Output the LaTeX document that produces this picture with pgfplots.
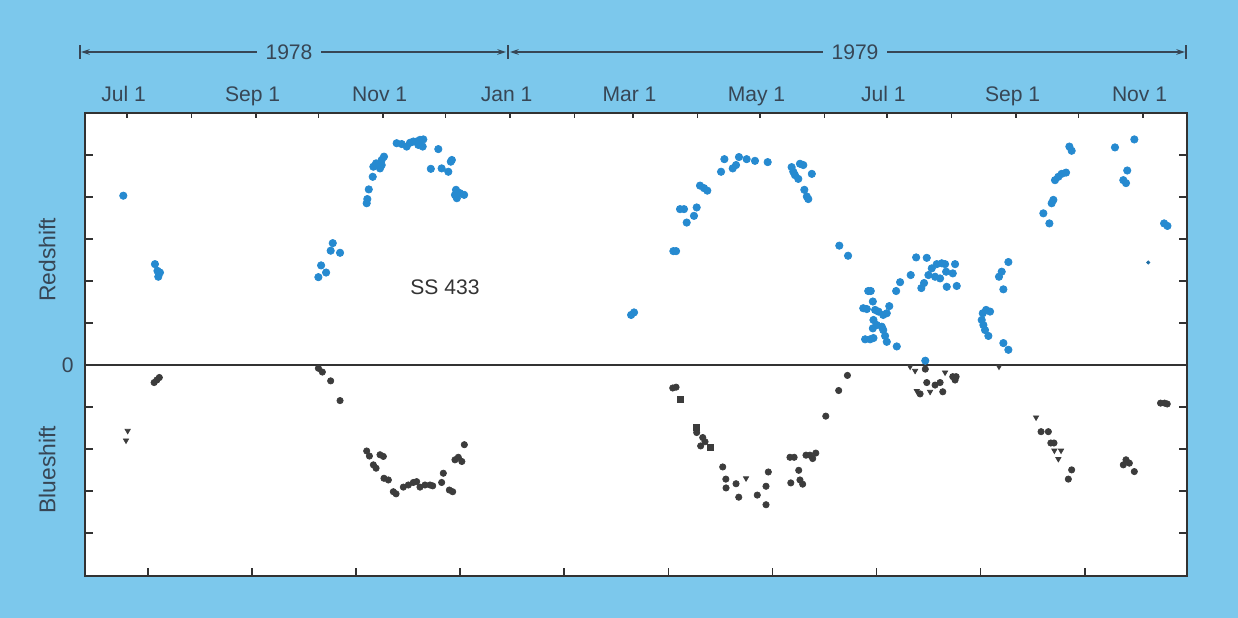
\documentclass[border=0pt]{standalone}
\usepackage{pgfplots}
\pgfplotsset{compat=1.18}
\usepackage{fontspec}
\setmainfont{Liberation Sans}
\usetikzlibrary{arrows.meta}
\definecolor{bgc}{RGB}{124,200,236}
\definecolor{txt}{RGB}{55,70,85}
\definecolor{redc}{RGB}{38,138,208}
\definecolor{darkc}{RGB}{60,60,60}
\definecolor{framec}{RGB}{50,50,50}
\begin{document}
\begin{tikzpicture}
\fill[bgc] (0,0) rectangle (24.76cm,12.36cm);
\path[use as bounding box] (0,0) rectangle (24.76cm,12.36cm);
% first axis: data, bottom JD ticks, left/right ticks
\begin{axis}[
  at={(1.70cm,0.846cm)}, anchor=south west,
  scale only axis, width=22.04cm, height=9.254cm,
  xmin=160.8, xmax=690.1, ymin=-5.02, ymax=6.0,
  axis background/.style={fill=white},
  axis line style={framec, line width=1.1pt},
  clip=false,
  tick align=inside,
  major tick length=0.16cm,
  xtick={191,241,291,341,391,441,491,541,591,641},
  xticklabels={},
  xtick pos=lower,
  x tick style={framec, line width=0.9pt},
  ytick={-4,-3,-2,-1,1,2,3,4,5},
  yticklabels={},
  ytick pos=both,
  y tick style={framec, line width=0.9pt},
  extra y ticks={0}, extra y tick labels={0},
  extra y tick style={yticklabel style={font=\fontsize{12}{14}\selectfont, text=txt, xshift=-3pt}},
  /pgf/number format/assume math mode=true,
]
\draw[framec, line width=1.1pt] (axis cs:160.8,0) -- (axis cs:690.1,0);
% redshift points
\addplot[only marks, mark=*, mark size=2.1pt, color=redc] table {
x y
179.2 4.03
194.4 2.40
195.6 2.24
196.8 2.20
196.0 2.10
279.8 2.90
278.8 2.72
283.3 2.67
274.2 2.37
276.6 2.20
272.9 2.09
296.1 3.85
296.4 3.95
297.1 4.18
299.0 4.48
299.3 4.72
300.6 4.80
302.5 4.68
303.3 4.76
304.4 4.96
303.3 4.88
310.5 5.28
312.9 5.26
315.3 5.20
316.9 5.29
318.5 5.32
320.1 5.32
321.7 5.36
323.3 5.37
323.0 5.20
320.9 5.24
330.5 5.14
326.9 4.67
332.1 4.68
335.3 4.60
336.5 4.84
337.0 4.88
339.0 4.17
339.4 3.97
340.9 4.09
342.9 4.05
338.5 4.05
423.1 1.19
424.5 1.25
443.4 2.71
444.7 2.71
446.6 3.71
448.5 3.71
454.6 3.75
453.3 3.55
449.8 3.39
456.2 4.27
458.1 4.21
459.7 4.15
466.3 4.60
467.9 4.90
471.9 4.68
473.5 4.76
474.9 4.95
478.6 4.90
482.6 4.86
488.7 4.83
500.2 4.71
501.0 4.60
501.8 4.52
503.4 4.43
504.2 4.79
505.8 4.76
509.9 4.55
506.3 4.17
507.5 4.01
508.2 3.95
523.1 2.84
527.3 2.60
537.0 1.76
538.2 1.76
539.2 1.51
534.6 1.35
536.3 1.33
540.3 1.31
541.9 1.27
544.2 1.19
545.9 1.23
547.1 1.40
539.5 1.07
541.1 0.95
539.2 0.87
544.2 0.83
543.5 0.91
535.5 0.61
537.9 0.61
539.5 0.64
545.1 0.69
545.9 0.55
550.7 0.44
550.4 1.76
552.3 1.97
557.4 2.14
560.0 2.56
565.1 2.55
562.5 1.83
563.8 1.95
565.9 2.14
567.5 2.30
569.1 2.10
569.9 2.40
572.3 2.42
573.9 2.40
574.4 2.22
571.5 2.06
574.7 1.86
577.6 2.18
578.7 2.40
579.5 1.88
564.4 0.10
592.0 1.23
591.5 1.07
592.3 0.95
593.1 0.83
594.7 0.69
593.6 1.31
595.5 1.27
601.9 0.52
604.3 0.36
599.8 2.10
601.1 2.22
601.9 1.80
604.3 2.45
633.6 5.20
634.7 5.10
626.7 4.40
628.3 4.48
629.9 4.55
632.0 4.58
625.1 3.85
625.9 3.93
621.1 3.61
624.0 3.37
655.5 5.18
664.8 5.37
661.4 4.63
659.5 4.40
660.8 4.33
679.1 3.37
680.7 3.31
};
\addplot[only marks, mark=*, mark size=0.9pt, color=redc!80!black] table {
x y
671.5 2.44
};
% blueshift points: circles
\addplot[only marks, mark=*, mark size=1.8pt, color=darkc] table {
x y
194.0 -0.42
195.3 -0.36
196.5 -0.30
272.9 -0.08
274.8 -0.17
278.8 -0.38
283.3 -0.85
296.1 -2.05
297.4 -2.17
302.5 -2.14
304.1 -2.18
299.3 -2.38
300.6 -2.46
304.4 -2.70
306.5 -2.74
308.9 -3.02
310.2 -3.07
313.7 -2.91
316.1 -2.86
318.5 -2.80
320.1 -2.78
321.7 -2.91
324.1 -2.86
326.5 -2.86
327.8 -2.88
332.1 -2.80
332.9 -2.58
335.8 -2.98
337.4 -3.02
338.5 -2.26
340.1 -2.20
341.8 -2.30
343.0 -1.90
443.1 -0.55
444.7 -0.53
454.6 -1.61
457.5 -1.73
458.6 -1.83
456.5 -1.93
467.1 -2.43
468.6 -2.72
468.7 -2.93
473.5 -2.83
474.8 -3.15
483.7 -3.10
487.9 -3.33
487.9 -2.89
489.0 -2.55
499.4 -2.20
501.4 -2.20
499.8 -2.81
503.6 -2.51
504.2 -2.74
505.5 -2.84
507.1 -2.15
509.0 -2.15
510.3 -2.23
511.8 -2.10
516.6 -1.22
522.8 -0.61
527.0 -0.25
564.4 -0.10
565.1 -0.42
561.9 -0.69
569.1 -0.48
571.5 -0.42
572.8 -0.64
577.6 -0.28
578.7 -0.36
579.2 -0.28
620.0 -1.59
623.5 -1.59
624.7 -1.86
626.2 -1.86
634.7 -2.50
633.1 -2.72
659.5 -2.38
660.8 -2.26
662.4 -2.34
664.8 -2.54
677.4 -0.91
679.3 -0.91
680.6 -0.93
};
% blueshift points: triangles
\addplot[only marks, mark=triangle*, mark size=1.7pt, color=darkc, every mark/.append style={rotate=180}] table {
x y
181.3 -1.57
180.5 -1.80
478.3 -2.70
557.1 -0.04
559.5 -0.14
560.3 -0.62
566.7 -0.64
573.9 -0.18
599.8 -0.04
617.6 -1.25
626.4 -2.04
629.6 -2.04
628.3 -2.24
};
% blueshift points: squares
\addplot[only marks, mark=square*, mark size=1.7pt, color=darkc] table {
x y
446.9 -0.81
454.3 -1.48
461.0 -1.97
};
\node[font=\fontsize{13}{15}\selectfont, text=txt, rotate=90] at (axis cs:142.6,2.5) {Redshift};
\node[font=\fontsize{13}{15}\selectfont, text=txt, rotate=90] at (axis cs:142.6,-2.5) {Blueshift};
\node[font=\fontsize{12}{14}\selectfont, text=black!80] at (axis cs:333.7,1.86) {SS 433};
\end{axis}
% second axis: month ticks and labels on top
\begin{axis}[
  at={(1.70cm,0.846cm)}, anchor=south west,
  scale only axis, width=22.04cm, height=9.254cm,
  xmin=160.8, xmax=690.1, ymin=-5.02, ymax=6.0,
  hide y axis,
  axis line style={draw=none},
  tick align=inside,
  major tick length=0.11cm,
  xtick={181,212,243,273,304,334,365,396,424,455,485,516,546,577,608,638,669},
  xticklabels={Jul 1,,Sep 1,,Nov 1,,Jan 1,,Mar 1,,May 1,,Jul 1,,Sep 1,,Nov 1},
  xtick pos=upper, xticklabel pos=upper,
  x tick style={framec, line width=0.9pt},
  xticklabel style={font=\fontsize{12}{14}\selectfont, text=txt, anchor=base, yshift=6.5pt, xshift=-2pt},
]
\end{axis}
% year bars
\begin{scope}[txt, line width=0.6pt]
\draw[-{Stealth[length=5pt,width=3.2pt]}] (5.78cm,11.32cm) -- (1.62cm,11.32cm);
\draw[-{Stealth[length=5pt,width=3.2pt]}] (5.78cm,11.32cm) -- (10.12cm,11.32cm);
\draw (1.60cm,11.18cm) -- (1.60cm,11.46cm);
\draw (10.16cm,11.18cm) -- (10.16cm,11.46cm);
\node[fill=bgc, inner xsep=5pt, font=\fontsize{12}{14}\selectfont, text=txt] at (5.78cm,11.32cm) {1978};
\draw[-{Stealth[length=5pt,width=3.2pt]}] (17.10cm,11.32cm) -- (10.20cm,11.32cm);
\draw[-{Stealth[length=5pt,width=3.2pt]}] (17.10cm,11.32cm) -- (23.70cm,11.32cm);
\draw (23.72cm,11.18cm) -- (23.72cm,11.46cm);
\node[fill=bgc, inner xsep=5pt, font=\fontsize{12}{14}\selectfont, text=txt] at (17.10cm,11.32cm) {1979};
\end{scope}
\end{tikzpicture}
\end{document}
